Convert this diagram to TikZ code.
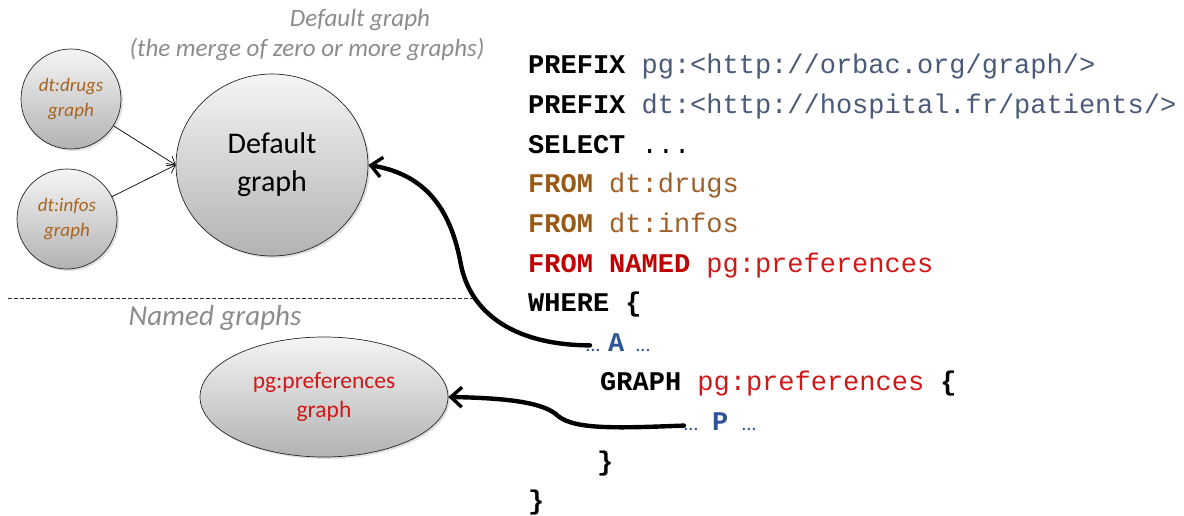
\documentclass[tikz,border=0pt]{standalone}
\usepackage{fontspec}
\setmainfont{Carlito}
\newfontfamily\codefont{Liberation Mono}
\usetikzlibrary{arrows.meta,shadows,shapes.geometric}
\definecolor{titlegray}{HTML}{8C8C8C}
\definecolor{drugbrown}{HTML}{A8641E}
\definecolor{kwbrown}{HTML}{9A5A16}
\definecolor{valbrown}{HTML}{A0602A}
\definecolor{urlblue}{HTML}{4A5A78}
\definecolor{kwred}{HTML}{C00000}
\definecolor{valred}{HTML}{D01818}
\definecolor{varblue}{HTML}{2F5597}
\tikzset{
  gnode/.style={draw=black!85, line width=0.7pt, shading=axis, top color=black!4, bottom color=black!30,
     drop shadow={opacity=0.25, shadow xshift=2pt, shadow yshift=-2pt}},
  code/.style={anchor=base west, inner sep=0pt, font=\codefont\fontsize{27}{30}\selectfont},
  thinarrow/.style={-{Straight Barb[length=7pt,width=11pt]}, line width=0.7pt},
  thickarrow/.style={-{Straight Barb[length=11pt,width=20pt,line width=3.4pt]}, line width=4.4pt, line cap=round},
  title/.style={font=\fontsize{25}{30}\selectfont\itshape, text=titlegray, align=center, inner sep=0pt}
}
\begin{document}
\begin{tikzpicture}[x=1pt,y=-1pt]
\useasboundingbox (0,0) rectangle (1184,516);
% titles
\node[title] (t1) at (360,20) {Default graph};
\node[title] (t2) at (307,50) {(the merge of zero or more graphs)};
% graph nodes
\node[gnode, circle, minimum size=100pt, align=center, text=drugbrown, font=\fontsize{19}{25}\selectfont\itshape] (drugs) at (71,99) {dt:drugs\\graph};
\node[gnode, circle, minimum size=100pt, align=center, text=drugbrown, font=\fontsize{19}{25}\selectfont\itshape] (infos) at (67,219) {dt:infos\\graph};
\node[gnode, ellipse, minimum width=192pt, minimum height=182pt, align=center, font=\fontsize{30}{38}\selectfont] (default) at (272,165) {Default\\graph};
\node[gnode, ellipse, minimum width=248pt, minimum height=120pt, align=center, text=valred, font=\fontsize{23.5}{29}\selectfont] (pref) at (324,397) {pg:preferences\\graph};
\draw[thinarrow] (drugs) -- (default.west);
\draw[thinarrow] (infos) -- (default.west);
% separator
\coordinate (s1) at (8,298);
\coordinate (s2) at (475,298);
\draw[dashed, line width=0.7pt, black!80, dash pattern=on 3.5pt off 2.5pt] (s1) -- (s2);
\node[title, font=\fontsize{29}{32}\selectfont\itshape] (named) at (215,318) {Named graphs};
% code
\node[code] (l1) at (528,74) {\textbf{PREFIX} \textcolor{urlblue}{pg:<http://orbac.org/graph/>}};
\node[code] (l2) at (528,113.6) {\textbf{PREFIX} \textcolor{urlblue}{dt:<http://hospital.fr/patients/>}};
\node[code] (l3) at (528,153.2) {\textbf{SELECT} ...};
\node[code] (l4) at (528,192.8) {\textcolor{kwbrown}{\textbf{FROM}} \textcolor{valbrown}{dt:drugs}};
\node[code] (l5) at (528,232.4) {\textcolor{kwbrown}{\textbf{FROM}} \textcolor{valbrown}{dt:infos}};
\node[code] (l6) at (528,272) {\textcolor{kwred}{\textbf{FROM NAMED}} \textcolor{valred}{pg:preferences}};
\node[code] (l7) at (528,311.6) {\textbf{WHERE \{}};
\node[code, text=varblue] (l8) at (586,351.2) {{\normalfont\fontsize{20}{20}\selectfont …}\hspace{8pt}\textbf{A}\hspace{12pt}{\normalfont\fontsize{20}{20}\selectfont …}};
\node[code] (l9) at (600,390.8) {\textbf{GRAPH} \textcolor{valred}{pg:preferences} \textbf{\{}};
\node[code, text=varblue] (l10) at (684,430.4) {{\normalfont\fontsize{20}{20}\selectfont …}\hspace{14pt}\textbf{P}\hspace{14pt}{\normalfont\fontsize{20}{20}\selectfont …}};
\node[code] (l11) at (597,470) {\textbf{\}}};
\node[code] (l12) at (528,509.6) {\textbf{\}}};
% thick arrows
\coordinate (a1) at ([xshift=4pt,yshift=-3pt]l8.west);
\draw[thickarrow] (a1) .. controls (510,345) and (470,310) .. (461,265) .. controls (452,215) and (430,175) .. (default.east);
\coordinate (a2) at ([yshift=-4pt]l10.west);
\draw[thickarrow] (a2) .. controls (620,428) and (575,430) .. (558,416) .. controls (545,403) and (510,398) .. (pref.east);
\end{tikzpicture}
\end{document}
